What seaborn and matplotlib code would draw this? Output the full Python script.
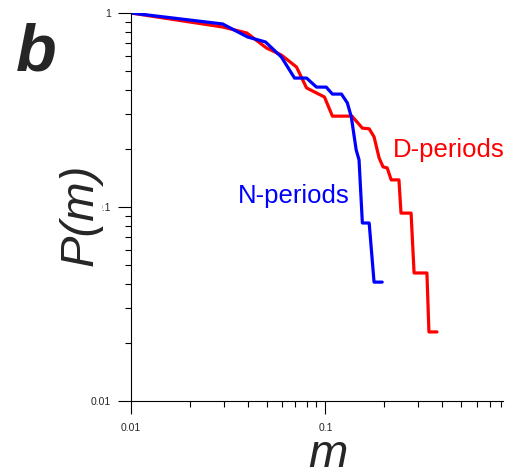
import numpy as np
import pandas as pd
import matplotlib
matplotlib.use("Agg")
import matplotlib.pyplot as plt
import seaborn as sns
from matplotlib.ticker import LogLocator, NullFormatter, FixedLocator, FixedFormatter

# D-periods (red)
d_m = [0.01, 0.0296, 0.0394, 0.0498, 0.0594, 0.071, 0.080, 0.0989, 0.1087, 0.137,
       0.155, 0.168, 0.178, 0.189, 0.198, 0.208, 0.218, 0.239, 0.245, 0.276,
       0.286, 0.333, 0.341, 0.375]
d_p = [1.0, 0.847, 0.789, 0.660, 0.607, 0.527, 0.411, 0.369, 0.294, 0.294,
       0.255, 0.253, 0.230, 0.179, 0.161, 0.159, 0.138, 0.138, 0.093, 0.093,
       0.0457, 0.0457, 0.0227, 0.0227]

# N-periods (blue)
n_m = [0.01, 0.0296, 0.0398, 0.0492, 0.0594, 0.0694, 0.080, 0.090, 0.101, 0.1087,
       0.121, 0.1297, 0.136, 0.144, 0.149, 0.155, 0.168, 0.178, 0.196]
n_p = [1.0, 0.878, 0.752, 0.709, 0.593, 0.462, 0.462, 0.415, 0.415, 0.382,
       0.382, 0.344, 0.291, 0.197, 0.175, 0.0827, 0.0827, 0.041, 0.041]

x_ticks = [0.01, 0.1]
x_labels = ["0.01", "0.1"]
y_ticks = [0.01, 0.1, 1]
y_labels = ["0.01", "0.1", "1"]

df = pd.concat([
    pd.DataFrame({"m": d_m, "P": d_p, "series": "D-periods", "order": range(len(d_m))}),
    pd.DataFrame({"m": n_m, "P": n_p, "series": "N-periods", "order": range(len(n_m))}),
], ignore_index=True)

sns.set_style("ticks")
plt.rcParams["font.family"] = ["Liberation Sans", "DejaVu Sans"]

W, H = 506, 472
fig = plt.figure(figsize=(W / 100, H / 100), dpi=100)
ax = fig.add_axes([131 / W, 1 - 401 / H, (503 - 131) / W, (401 - 13) / H])

sns.lineplot(data=df, x="m", y="P", hue="series", units="series", estimator=None,
             sort=False, palette={"D-periods": "#ff0000", "N-periods": "#0000ff"},
             hue_order=["D-periods", "N-periods"], linewidth=2.3, ax=ax, legend=False)

ax.set_xscale("log")
ax.set_yscale("log")
ax.set_xlim(0.01, 0.82)
ax.set_ylim(0.01, 1.0)

ax.xaxis.set_major_locator(FixedLocator(x_ticks))
ax.xaxis.set_major_formatter(FixedFormatter(x_labels))
ax.yaxis.set_major_locator(FixedLocator(y_ticks))
ax.yaxis.set_major_formatter(FixedFormatter(y_labels))
ax.xaxis.set_minor_locator(LogLocator(base=10, subs=np.arange(2, 10)))
ax.yaxis.set_minor_locator(LogLocator(base=10, subs=np.arange(2, 10)))
ax.xaxis.set_minor_formatter(NullFormatter())
ax.yaxis.set_minor_formatter(NullFormatter())

ax.tick_params(axis="both", which="major", direction="out", length=9.5, width=0.8,
               labelsize=7.5, color="black")
ax.tick_params(axis="both", which="minor", direction="out", length=4.5, width=0.8,
               color="black")
ax.tick_params(axis="x", which="major", pad=6.5)
ax.tick_params(axis="y", which="major", pad=5)

sns.despine(ax=ax)
for s in ["left", "bottom"]:
    ax.spines[s].set_linewidth(0.8)
    ax.spines[s].set_color("black")

ax.set_xlabel("")
ax.set_ylabel("")

# Axis labels
fig.text(80.5 / W, 1 - 214.5 / H, "P(m)", rotation=90, ha="center", va="center",
         fontsize=34, fontstyle="italic",
         bbox=dict(facecolor="white", edgecolor="none", pad=0))
fig.text(328 / W, 1 - 467 / H, "m", ha="center", va="baseline",
         fontsize=34, fontstyle="italic")

# Panel letter
fig.text(16 / W, 1 - 71 / H, "b", ha="left", va="baseline", fontsize=48,
         fontweight="bold", fontstyle="italic")

# Series labels
ax.text(238 / W, 1 - 203 / H, "N-periods", transform=fig.transFigure, ha="left",
        va="baseline", fontsize=18.5, color="#0000ff")
ax.text(393 / W, 1 - 157 / H, "D-periods", transform=fig.transFigure, ha="left",
        va="baseline", fontsize=18.5, color="#ff0000", clip_on=False)

fig.savefig("out.png", dpi=100)
